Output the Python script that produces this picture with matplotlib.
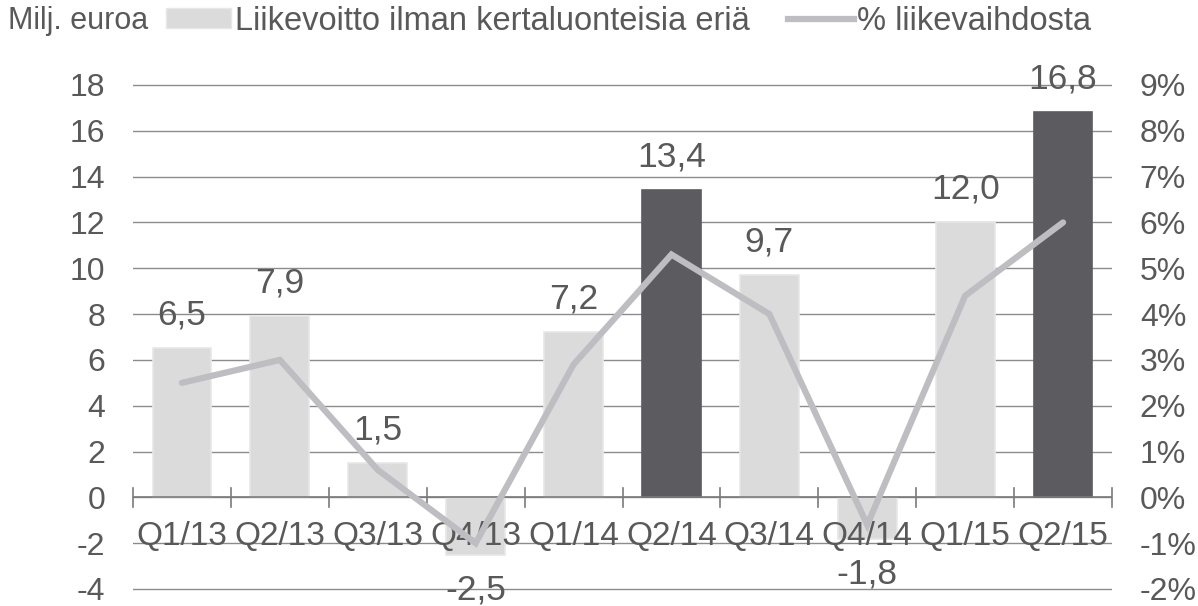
import matplotlib
matplotlib.use("Agg")
import matplotlib.pyplot as plt
from matplotlib.patches import Patch
from matplotlib.lines import Line2D
import numpy as np

categories = ["Q1/13", "Q2/13", "Q3/13", "Q4/13", "Q1/14", "Q2/14", "Q3/14", "Q4/14", "Q1/15", "Q2/15"]
ebit = [6.5, 7.9, 1.5, -2.5, 7.2, 13.4, 9.7, -1.8, 12.0, 16.8]
margin_pct = [2.5, 3.0, 0.6, -1.0, 2.9, 5.3, 4.0, -0.6, 4.4, 6.0]
highlight = [False, False, False, False, False, True, False, False, False, True]
left_ticks = [-4, -2, 0, 2, 4, 6, 8, 10, 12, 14, 16, 18]
right_ticks = [-2, -1, 0, 1, 2, 3, 4, 5, 6, 7, 8, 9]
bar_label = "Liikevoitto ilman kertaluonteisia eriä"
line_label = "% liikevaihdosta"
unit_label = "Milj. euroa"

TXT = "#595959"
LIGHT = "#dcdbdc"
DARK = "#5c5b60"
LINEC = "#bebdc2"
GRID = "#8c8c8c"
AXC = "#7a7a7a"
FS = 23

plt.rcParams['font.family'] = ['Liberation Sans', 'DejaVu Sans']

W, H = 1198, 606
y_top_px, y_bot_px = 85, 589          # pixel rows of 18 and -4
ppu = (y_bot_px - y_top_px) / (left_ticks[-1] - left_ticks[0])
m = 0.2
ax_top = y_top_px - m * ppu
ax_bot = y_bot_px + m * ppu
fig = plt.figure(figsize=(W/100, H/100), dpi=100)
ax = fig.add_axes([133/W, 1 - ax_bot/H, (1112-133)/W, (ax_bot-ax_top)/H])
ax2 = ax.twinx()

x = np.arange(len(categories))
colors = [DARK if h else LIGHT for h in highlight]
edges = [DARK if h else "#e8e7e8" for h in highlight]
ax.bar(x, ebit, width=0.6, color=colors, edgecolor=edges, linewidth=1.2, zorder=2)

ax.set_xlim(-0.5, len(categories)-0.5)
ax.set_ylim(left_ticks[0]-m, left_ticks[-1]+m)
ax.set_yticks(left_ticks)
ax.set_yticklabels([str(t) for t in left_ticks])
ax.yaxis.grid(True, color=GRID, linewidth=1, zorder=0)
ax.set_axisbelow(True)
ax.tick_params(axis='y', length=0, pad=20, labelsize=FS, labelcolor=TXT)

for s in list(ax.spines.values()) + list(ax2.spines.values()):
    s.set_visible(False)

# category axis at zero
ax.axhline(0, color=AXC, linewidth=1.2, zorder=3)
for b in np.arange(-0.5, len(categories), 1.0):
    ax.plot([b, b], [-0.42, 0.42], color=AXC, linewidth=1.2, zorder=3, clip_on=False)
ax.set_xticks([])
for xi, c in zip(x, categories):
    ax.text(xi, -2.08, c, ha='center', va='baseline', fontsize=24, color=TXT, zorder=4)

# data labels
for xi, v in zip(x, ebit):
    lab = f"{v:.1f}".replace('.', ',')
    if v >= 0:
        ax.annotate(lab, (xi, v), xytext=(0, 17), textcoords='offset points',
                    ha='center', va='baseline', fontsize=25.5, color=TXT, zorder=4)
    else:
        ax.annotate(lab, (xi, v), xytext=(0, -32), textcoords='offset points',
                    ha='center', va='baseline', fontsize=25.5, color=TXT, zorder=4)

ax2.plot(x, margin_pct, color=LINEC, linewidth=4.5, solid_capstyle='round',
         solid_joinstyle='miter', zorder=5)
ax2.set_ylim(right_ticks[0]-m/2, right_ticks[-1]+m/2)
ax2.set_yticks(right_ticks)
ax2.set_yticklabels([f"{t}%" for t in right_ticks])
ax2.tick_params(axis='y', length=0, pad=20, labelsize=FS, labelcolor=TXT)
ax2.set_xlim(-0.5, len(categories)-0.5)

# legend
fig.text(8/W, 1-21/H, unit_label, ha='left', va='center', fontsize=22, color=TXT)
handles = [Patch(facecolor=LIGHT, edgecolor="#e8e7e8", label=bar_label),
           Line2D([0], [0], color=LINEC, linewidth=4.5, label=line_label)]
leg = fig.legend(handles=handles, loc='center left', bbox_to_anchor=(166/W, 1-21/H),
                 ncol=2, frameon=False, fontsize=23.5, handlelength=2.0, handleheight=0.55,
                 handletextpad=0.1, columnspacing=1.2, borderaxespad=0, borderpad=0)
for t in leg.get_texts():
    t.set_color(TXT)

fig.savefig("out.png", dpi=100)
